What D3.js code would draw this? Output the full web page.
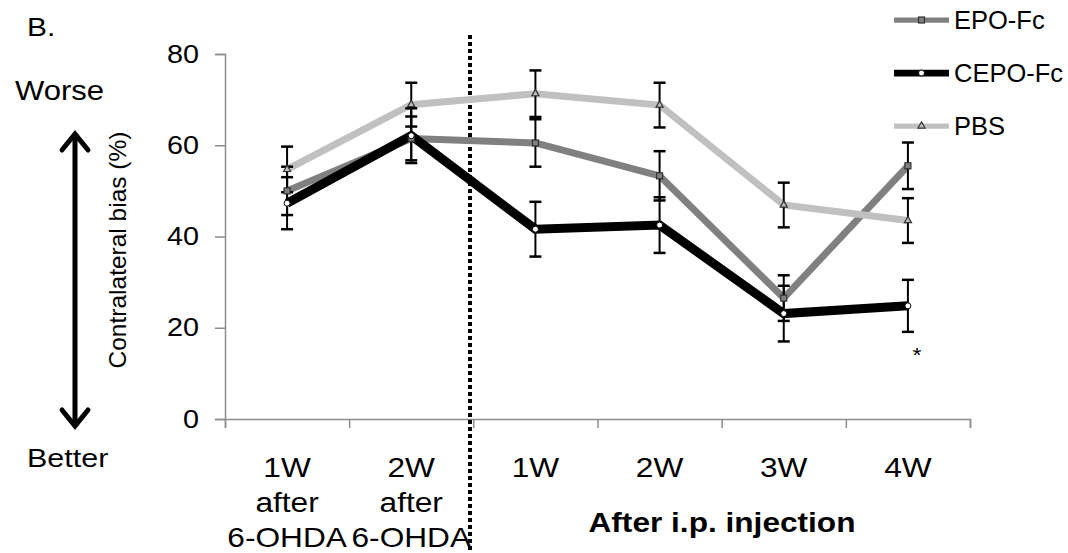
<!DOCTYPE html>
<html>
<head>
<meta charset="utf-8">
<script src="https://cdn.jsdelivr.net/npm/d3@7"></script>
<style>
body { margin: 0; background: #fff; }
text { font-family: "Liberation Sans", Arial, sans-serif; fill: #000; }
</style>
</head>
<body>
<svg id="chart" width="1068" height="553"></svg>
<script>
// values
var categories = ['1W after 6-OHDA', '2W after 6-OHDA', '1W', '2W', '3W', '4W']
var categoryLines = [['1W', 'after', '6-OHDA'], ['2W', 'after', '6-OHDA'], ['1W'], ['2W'], ['3W'], ['4W']]
var yTicks = [0, 20, 40, 60, 80]

var epoValues = [50.0, 61.5, 60.5, 53.3, 26.5, 55.5]
var epoErrors = [5.3, 4.8, 5.2, 5.4, 5.0, 5.1]
var cepoValues = [47.3, 62.1, 41.6, 42.5, 23.1, 24.8]
var cepoErrors = [5.7, 6.0, 6.0, 6.1, 6.1, 5.7]
var pbsValues = [54.7, 68.9, 71.3, 68.8, 46.9, 43.5]
var pbsErrors = [5.0, 4.8, 5.1, 4.9, 4.9, 4.9]

var SX = 1.15  // the figure's text is a bit wider than the font

var series = [
    {name: 'EPO-Fc', values: epoValues, errors: epoErrors, color: '#808080', width: 7, marker: 'square'},
    {name: 'CEPO-Fc', values: cepoValues, errors: cepoErrors, color: '#000000', width: 9, marker: 'circle'},
    {name: 'PBS', values: pbsValues, errors: pbsErrors, color: '#c0c0c0', width: 7, marker: 'triangle'}
]

var svg = d3.select('#chart')
var plotLeft = 225, plotRight = 970, plotTop = 54, plotBottom = 419

var x = d3.scaleBand().domain(categories).range([plotLeft, plotRight])
var xEdge = d3.scaleLinear().domain([0, categories.length]).range([plotLeft, plotRight])
var y = d3.scaleLinear().domain([0, 80]).range([plotBottom, plotTop])
var cx = function (i) { return x(categories[i]) + x.bandwidth() / 2 }

function addText(px, py, str, size, anchor, weight) {
    var g = svg.append('g').attr('transform', 'translate(' + px + ',' + py + ') scale(' + SX + ',1)')
    return g.append('text')
        .attr('text-anchor', anchor || 'start')
        .attr('font-size', size)
        .attr('font-weight', weight || 'normal')
        .text(str)
}

// axes
var yAxis = svg.append('g')
    .attr('transform', 'translate(' + plotLeft + ',0)')
    .call(d3.axisLeft(y).tickValues(yTicks).tickSize(10).tickPadding(16))
yAxis.selectAll('text')
    .attr('font-size', 25)
    .attr('font-family', '"Liberation Sans", Arial, sans-serif')
    .attr('fill', '#000')
    .attr('x', -26 / SX)
    .attr('transform', 'scale(' + SX + ',1)')

var xAxis = svg.append('g')
    .attr('transform', 'translate(0,' + plotBottom + ')')
    .call(d3.axisBottom(xEdge).ticks(categories.length).tickSize(9).tickFormat(''))

svg.selectAll('.domain, .tick line').attr('stroke', '#8c8c8c').attr('stroke-width', 1.5)

// category labels, several lines each
categoryLines.forEach(function (lines, i) {
    lines.forEach(function (s, j) {
        addText(cx(i), 477 + j * 35, s, 27.5, 'middle')
    })
})
addText(722, 532, 'After i.p. injection', 27.5, 'middle', 'bold')

// separator between before / after injection
svg.append('line')
    .attr('x1', 470).attr('x2', 470)
    .attr('y1', 35).attr('y2', 553)
    .attr('stroke', '#000').attr('stroke-width', 4)
    .attr('stroke-dasharray', '4 3')

// lines
var line = d3.line()
    .x(function (d, i) { return cx(i) })
    .y(function (d) { return y(d) })

series.forEach(function (s) {
    svg.append('path')
        .datum(s.values)
        .attr('d', line)
        .attr('fill', 'none')
        .attr('stroke', s.color)
        .attr('stroke-width', s.width)
        .attr('stroke-linejoin', 'miter')
})

// error bars
series.forEach(function (s) {
    var g = svg.append('g').attr('stroke', '#000')
    s.values.forEach(function (v, i) {
        var px = cx(i), hi = y(v + s.errors[i]), lo = y(v - s.errors[i])
        g.append('line').attr('x1', px).attr('x2', px).attr('y1', hi).attr('y2', lo).attr('stroke-width', 2)
        g.append('line').attr('x1', px - 6).attr('x2', px + 6).attr('y1', hi).attr('y2', hi).attr('stroke-width', 2.5)
        g.append('line').attr('x1', px - 6).attr('x2', px + 6).attr('y1', lo).attr('y2', lo).attr('stroke-width', 2.5)
    })
})

function drawMarker(g, kind, px, py, color) {
    if (kind === 'square') {
        g.append('rect').attr('x', px - 3).attr('y', py - 3).attr('width', 6).attr('height', 6)
            .attr('fill', color).attr('stroke', '#333').attr('stroke-width', 1.2)
    } else if (kind === 'circle') {
        g.append('circle').attr('cx', px).attr('cy', py).attr('r', 3)
            .attr('fill', '#fff').attr('stroke', '#000').attr('stroke-width', 1)
    } else {
        g.append('path').attr('d', d3.symbol(d3.symbolTriangle, 22)()).attr('transform', 'translate(' + px + ',' + py + ')')
            .attr('fill', color).attr('stroke', '#333').attr('stroke-width', 1.2)
    }
}

series.forEach(function (s) {
    var g = svg.append('g')
    s.values.forEach(function (v, i) { drawMarker(g, s.marker, cx(i), y(v), s.color) })
})

// significance mark
addText(cx(5) + 9, 362, '*', 20, 'middle')

// legend
series.forEach(function (s, i) {
    var ly = 20 + i * 53
    svg.append('line').attr('x1', 894).attr('x2', 949).attr('y1', ly).attr('y2', ly)
        .attr('stroke', s.color).attr('stroke-width', s.width * 0.75)
    drawMarker(svg.append('g'), s.marker, 921.5, ly, s.color)
    svg.append('text').attr('x', 954).attr('y', ly + 9).attr('font-size', 25.5).text(s.name)
})

// panel letter, y title and direction arrow
addText(27, 36, 'B.', 26)
addText(15, 100, 'Worse', 27)
addText(27, 467, 'Better', 26.5)

svg.append('text')
    .attr('transform', 'translate(126,250) rotate(-90)')
    .attr('text-anchor', 'middle')
    .attr('font-size', 24.5)
    .text('Contralateral bias (%)')

svg.append('line').attr('x1', 75).attr('x2', 75).attr('y1', 136).attr('y2', 424)
    .attr('stroke', '#000').attr('stroke-width', 5)
svg.append('path').attr('d', 'M62,150 L75,134 L88,150').attr('fill', 'none')
    .attr('stroke', '#000').attr('stroke-width', 5).attr('stroke-linecap', 'round')
svg.append('path').attr('d', 'M62,410 L75,426 L88,410').attr('fill', 'none')
    .attr('stroke', '#000').attr('stroke-width', 5).attr('stroke-linecap', 'round')
</script>
</body>
</html>
